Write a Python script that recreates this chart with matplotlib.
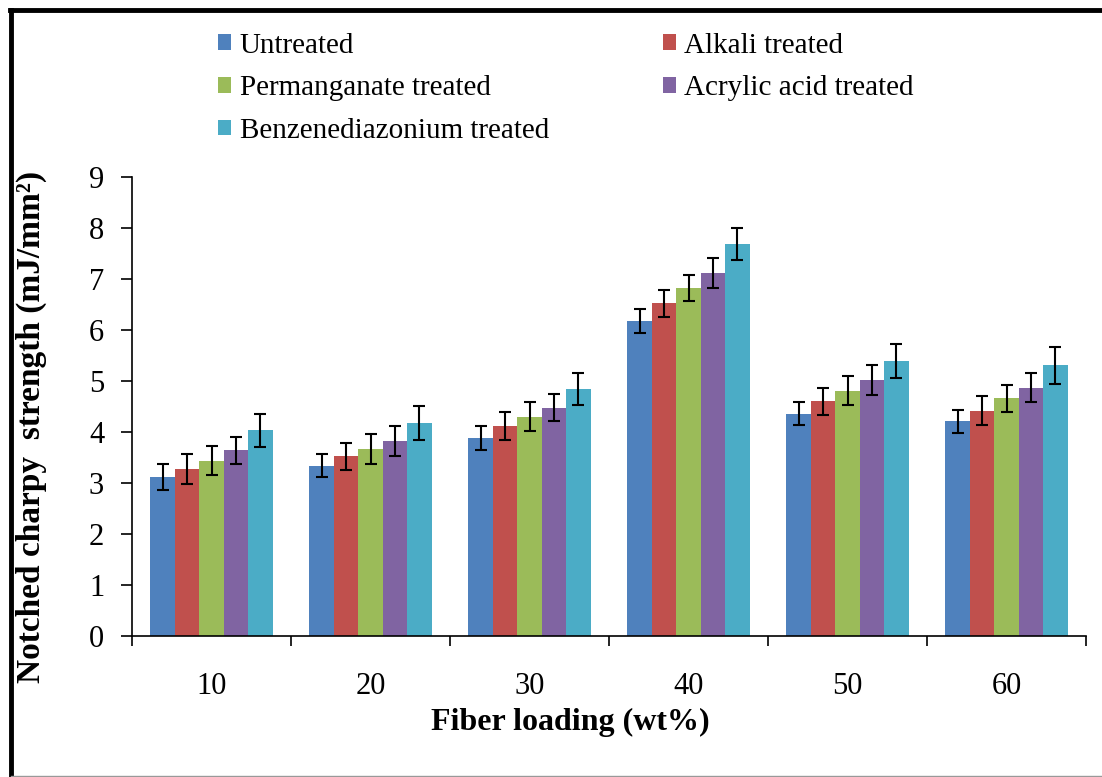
import matplotlib
matplotlib.use("Agg")
import matplotlib.pyplot as plt
from matplotlib.lines import Line2D
import numpy as np

categories = ["10", "20", "30", "40", "50", "60"]
series_names = ["Untreated", "Alkali treated", "Permanganate treated",
                "Acrylic acid treated", "Benzenediazonium treated"]
untreated = [3.12, 3.34, 3.88, 6.18, 4.36, 4.21]
alkali = [3.28, 3.52, 4.12, 6.52, 4.60, 4.42]
permanganate = [3.44, 3.67, 4.30, 6.82, 4.81, 4.66]
acrylic = [3.64, 3.82, 4.48, 7.12, 5.02, 4.87]
benzenediazonium = [4.03, 4.18, 4.84, 7.69, 5.39, 5.31]

err_untreated = [0.25, 0.23, 0.23, 0.24, 0.23, 0.23]
err_alkali = [0.29, 0.27, 0.27, 0.26, 0.26, 0.29]
err_permanganate = [0.29, 0.30, 0.29, 0.25, 0.29, 0.26]
err_acrylic = [0.26, 0.29, 0.27, 0.29, 0.29, 0.29]
err_benzenediazonium = [0.32, 0.33, 0.32, 0.31, 0.34, 0.36]

values = [untreated, alkali, permanganate, acrylic, benzenediazonium]
errors = [err_untreated, err_alkali, err_permanganate, err_acrylic, err_benzenediazonium]
colors = ["#4F81BD", "#C0504D", "#9BBB59", "#8064A2", "#4BACC6"]

plt.rcParams['font.family'] = ['Liberation Serif', 'DejaVu Serif']

fig = plt.figure(figsize=(11.02, 7.77), dpi=100)
ax = fig.add_axes([132/1102, 1-636/777, (1086-132)/1102, (636-177)/777])

n = len(values)
bw = 0.154
x = np.arange(len(categories))
handles = []
for i, (vals, errs, c, name) in enumerate(zip(values, errors, colors, series_names)):
    pos = x + (i - (n-1)/2) * bw
    b = ax.bar(pos, vals, width=bw, color=c, label=name, zorder=2)
    ax.errorbar(pos, vals, yerr=errs, fmt='none', ecolor='black',
                elinewidth=1.5, capsize=4, capthick=1.5, zorder=3)
    handles.append(b)

ax.set_xlim(-0.5, len(categories)-0.5)
ax.set_ylim(0, 9)
ax.set_yticks(range(0, 10))
ax.set_xticks(x)
ax.set_xticklabels(categories)
ax.set_xticks(np.arange(-0.5, len(categories), 1.0), minor=True)
ax.tick_params(axis='x', which='major', length=0, pad=26, labelsize=22)
ax.tick_params(axis='x', which='minor', length=7, width=1.2, direction='out')
ax.tick_params(axis='y', which='major', length=8, width=1.2, direction='out',
               pad=12, labelsize=22)
for s in ['top', 'right']:
    ax.spines[s].set_visible(False)
for s in ['left', 'bottom']:
    ax.spines[s].set_linewidth(1.2)

ax.set_ylabel("Notched charpy  strength (mJ/mm²)", fontsize=24, fontweight='bold')
ax.yaxis.set_label_coords(-0.089, 0.455)
fig.text(570/1102, 1-722/777, "Fiber loading (wt%)", fontsize=23,
         fontweight='bold', ha='center', va='center')

# legend filled row by row (2 columns)
order = [0, 2, 4, 1, 3]
leg = fig.legend(handles=[handles[k] for k in order],
                 labels=[series_names[k] for k in order], ncol=2,
                 loc='upper left', bbox_to_anchor=(206/1102, 1-21/777),
                 frameon=False, fontsize=21, handlelength=0.45, handleheight=0.45,
                 handletextpad=0.3, columnspacing=3.9, labelspacing=0.57,
                 borderaxespad=0)

# outer frame lines
fig.add_artist(Line2D([10/1102, 1], [1-10/777, 1-10/777], color='black', lw=3.5,
                      transform=fig.transFigure))
fig.add_artist(Line2D([11/1102, 11/1102], [0, 1-10/777], color='black', lw=3.5,
                      transform=fig.transFigure))
fig.add_artist(Line2D([11/1102, 1], [1.5/777, 1.5/777], color='#999999', lw=1,
                      transform=fig.transFigure))

fig.savefig("out.png", dpi=100)
